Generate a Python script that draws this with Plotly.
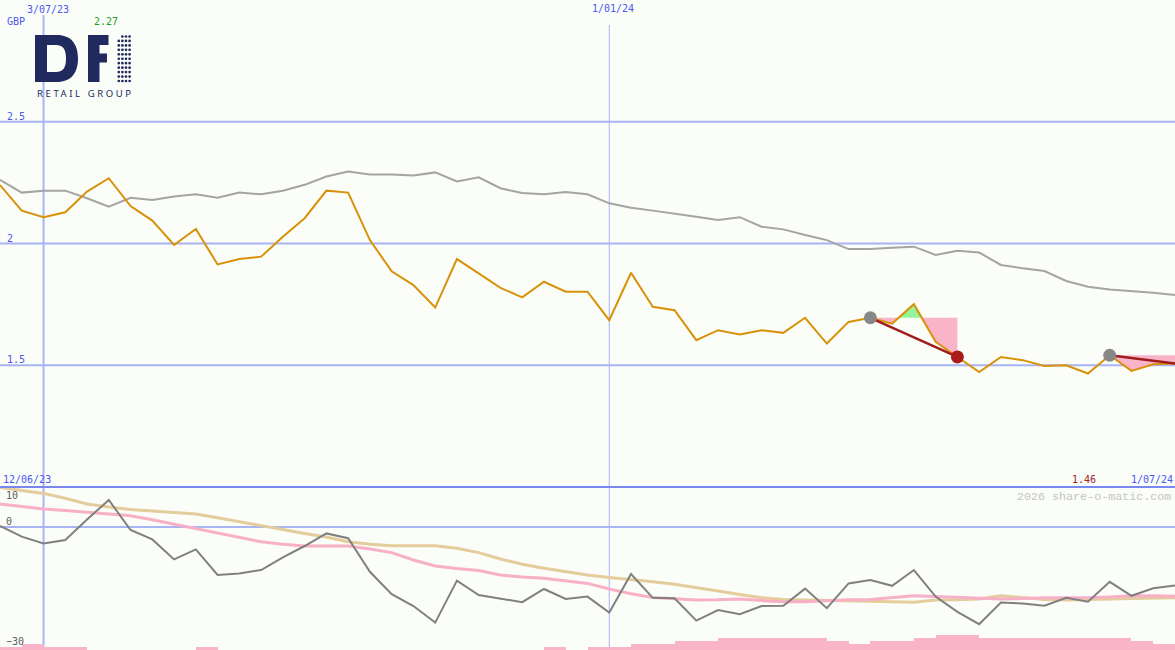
import pandas as pd
import plotly.graph_objects as go

# ---------------- data ----------------
dates = pd.date_range("2023-06-19", periods=55, freq="7D")

price = [2.240, 2.135, 2.108, 2.128, 2.213, 2.268, 2.154, 2.094, 1.994, 2.060,
         1.914, 1.936, 1.946, 2.028, 2.104, 2.217, 2.209, 2.014, 1.886, 1.829,
         1.737, 1.936, 1.877, 1.818, 1.779, 1.843, 1.802, 1.802, 1.685, 1.880,
         1.740, 1.726, 1.603, 1.644, 1.626, 1.644, 1.633, 1.695, 1.589, 1.678,
         1.695, 1.671, 1.751, 1.596, 1.534, 1.472, 1.534, 1.521, 1.497, 1.500,
         1.466, 1.541, 1.477, 1.504, 1.507]

index_line = [2.261, 2.209, 2.217, 2.217, 2.186, 2.151, 2.188, 2.179, 2.193, 2.202,
              2.188, 2.209, 2.202, 2.217, 2.241, 2.275, 2.296, 2.283, 2.283, 2.279,
              2.292, 2.255, 2.272, 2.227, 2.207, 2.202, 2.211, 2.202, 2.165, 2.147,
              2.135, 2.124, 2.110, 2.097, 2.108, 2.069, 2.058, 2.035, 2.014, 1.977,
              1.977, 1.983, 1.987, 1.953, 1.970, 1.963, 1.912, 1.898, 1.887, 1.846,
              1.822, 1.811, 1.805, 1.798, 1.788]

osc = [0.25, -2.4, -4.1, -3.25, 1.9, 6.75, -0.75, -3.1, -8.1, -5.6,
       -12.0, -11.6, -10.75, -7.6, -4.75, -1.6, -2.8, -11.2, -16.8, -19.75,
       -23.9, -13.4, -17.0, -17.9, -18.8, -15.5, -18.0, -17.4, -21.4, -11.75,
       -17.7, -17.8, -23.4, -20.75, -21.8, -19.75, -19.7, -15.4, -20.3, -14.1,
       -13.25, -14.7, -10.75, -17.4, -21.2, -24.3, -18.9, -19.1, -19.7, -17.7,
       -18.7, -13.7, -17.2, -15.3, -14.6]

osc_slow = [9.9, 9.1, 8.4, 7.2, 5.75, 5.0, 4.4, 4.0, 3.7, 3.25,
            2.3, 1.3, 0.3, -0.6, -1.6, -2.5, -3.7, -4.3, -4.7, -4.7,
            -4.7, -5.3, -6.4, -8.0, -9.3, -10.3, -11.2, -12.0, -12.6, -13.1,
            -13.7, -14.3, -15.1, -16.0, -16.9, -17.7, -18.1, -18.25, -18.4, -18.5,
            -18.6, -18.7, -18.8, -18.25, -18.2, -18.0, -17.2, -17.6, -18.1, -18.25,
            -18.2, -18.0, -17.9, -17.8, -17.7]

osc_signal = [5.75, 5.1, 4.5, 4.1, 3.7, 3.3, 2.8, 1.8, 0.7, -0.3,
              -1.4, -2.6, -3.7, -4.3, -4.75, -4.75, -4.75, -5.5, -6.4, -8.25,
              -9.75, -10.4, -10.9, -12.0, -12.5, -12.8, -13.4, -14.1, -15.5, -16.7,
              -17.6, -18.0, -18.25, -18.2, -18.0, -18.4, -18.7, -18.7, -18.4, -18.2,
              -18.1, -17.7, -17.2, -17.4, -17.6, -17.8, -18.0, -17.9, -17.7, -17.7,
              -17.7, -17.5, -17.2, -17.2, -17.3]

volume_bars = [0.75, 1.5, 0.75, 0.75, 0, 0, 0, 0, 0, 0.75,
               0, 0, 0, 0, 0, 0, 0, 0, 0, 0,
               0, 0, 0, 0, 0, 0.75, 0, 0.75, 0.75, 1.5,
               1.5, 2.25, 2.25, 3.1, 3.1, 3.1, 3.1, 3.1, 2.25, 1.5,
               2.25, 2.25, 3.1, 3.75, 3.75, 3.1, 3.1, 3.1, 3.1, 3.1,
               3.1, 3.1, 2.25, 1.5, 1.5]

trade_entries = ["2024-03-25", "2024-06-10"]
trade_exits = ["2024-04-22", "2024-07-01"]
trade_closed = [True, False]

x_range = ["2023-06-19", "2024-07-01"]
upper_range = [1.0, 3.0]
lower_range = [-30.75, 10.0]
price_ticks = [2.5, 2.0, 1.5]
price_tick_labels = ["2.5", "2", "1.5"]
osc_ticks = [10, 0, -30]
date_marks = ["2023-07-03", "2024-01-01"]
date_mark_labels = ["3/07/23", "1/01/24"]
start_label, end_label = "12/06/23", "1/07/24"
high_label, low_label = "2.27", "1.46"
currency = "GBP"

# ---------------- layout helpers ----------------
W, H = 1175, 650
SPLIT = 487  # pixel row where lower panel starts


def PX(x):
    return x / W


def PY(y):
    return 1 - y / H


BLUE_TXT = "#4a58f0"
GRID = "#a8b4f4"
DIVIDER = "#7888ee"
BG = "#fbfdf8"
NAVY = "#212a5e"

fig = go.Figure()

# upper panel: comparison line
fig.add_trace(go.Scatter(x=dates, y=index_line, mode="lines",
                         line=dict(color="#a4a4a4", width=2), yaxis="y", hoverinfo="skip"))

# trade shading
for ent, ex in zip(trade_entries, trade_exits):
    i0 = list(dates).index(pd.Timestamp(ent))
    i1 = list(dates).index(pd.Timestamp(ex))
    level = price[i0]
    pts = []
    for k in range(i0, i1 + 1):
        pts.append((dates[k], price[k]))
        if k < i1:
            a, b = price[k] - level, price[k + 1] - level
            if a * b < 0:
                t = (level - price[k]) / (price[k + 1] - price[k])
                pts.append((dates[k] + (dates[k + 1] - dates[k]) * t, level))
    px_ = [p[0] for p in pts]
    for func, col in ((min, "#f9b4c9"), (max, "#98f498")):
        ys = [func(p[1], level) for p in pts]
        fig.add_trace(go.Scatter(x=px_ + [px_[-1], px_[0]], y=ys + [level, level],
                                 mode="lines", fill="toself", fillcolor=col,
                                 line=dict(width=0, color=col), yaxis="y", hoverinfo="skip"))

# price line
fig.add_trace(go.Scatter(x=dates, y=price, mode="lines",
                         line=dict(color="#d8920a", width=2), yaxis="y", hoverinfo="skip"))

# trade lines and markers
for ent, ex, closed in zip(trade_entries, trade_exits, trade_closed):
    i0 = list(dates).index(pd.Timestamp(ent))
    i1 = list(dates).index(pd.Timestamp(ex))
    fig.add_trace(go.Scatter(x=[dates[i0], dates[i1]], y=[price[i0], price[i1]], mode="lines",
                             line=dict(color="#a01c1c", width=2.5), yaxis="y", hoverinfo="skip"))
    fig.add_trace(go.Scatter(x=[dates[i0]], y=[price[i0]], mode="markers",
                             marker=dict(color="#888888", size=13), yaxis="y", hoverinfo="skip"))
    if closed:
        fig.add_trace(go.Scatter(x=[dates[i1]], y=[price[i1]], mode="markers",
                                 marker=dict(color="#a81c1c", size=13), yaxis="y", hoverinfo="skip"))

# lower panel
fig.add_trace(go.Bar(x=dates, y=volume_bars, base=lower_range[0], offset=0,
                     width=[7 * 86400000] * len(dates), marker=dict(color="#f9b4c9", line=dict(width=0)),
                     yaxis="y2", hoverinfo="skip"))
fig.add_trace(go.Scatter(x=dates, y=osc_slow, mode="lines",
                         line=dict(color="#e4cc9c", width=3), yaxis="y2", hoverinfo="skip"))
fig.add_trace(go.Scatter(x=dates, y=osc_signal, mode="lines",
                         line=dict(color="#f8b0c8", width=3), yaxis="y2", hoverinfo="skip"))
fig.add_trace(go.Scatter(x=dates, y=osc, mode="lines",
                         line=dict(color="#808080", width=2), yaxis="y2", hoverinfo="skip"))

dom_split = (H - SPLIT) / H
shapes = []
for v in price_ticks:
    shapes.append(dict(type="line", xref="paper", yref="y", x0=0, x1=1, y0=v, y1=v,
                       line=dict(color=GRID, width=2), layer="below"))
shapes.append(dict(type="line", xref="paper", yref="y2", x0=0, x1=1, y0=0, y1=0,
                   line=dict(color=GRID, width=2), layer="below"))
shapes.append(dict(type="line", xref="paper", yref="paper", x0=0, x1=1,
                   y0=PY(SPLIT), y1=PY(SPLIT), line=dict(color=DIVIDER, width=2), layer="above"))
shapes.append(dict(type="line", xref="x", yref="paper", x0=date_marks[0], x1=date_marks[0],
                   y0=0, y1=PY(15), line=dict(color=GRID, width=2), layer="below"))
shapes.append(dict(type="line", xref="x", yref="paper", x0=date_marks[1], x1=date_marks[1],
                   y0=0, y1=PY(25), line=dict(color=GRID, width=1), layer="below"))

# logo: D
d_path = ("M {a},{b} L {c},{b} C {d},{b} {e},{f} {e},{g} C {e},{h} {d},{i} {c},{i} L {a},{i} Z "
          "M {j},{k} L {l},{k} C {m},{k} {n},{o} {n},{g} C {n},{p} {m},{q} {l},{q} L {j},{q} Z").format(
    a=PX(35), b=PY(35), c=PX(57), d=PX(71), e=PX(78), f=PY(44), g=PY(58.5), h=PY(73), i=PY(82),
    j=PX(47), k=PY(45), l=PX(56), m=PX(63.5), n=PX(66), o=PY(50), p=PY(67), q=PY(72))
shapes.append(dict(type="path", xref="paper", yref="paper", path=d_path, fillcolor=NAVY,
                   fillrule="evenodd", line=dict(width=0)))
# logo: F
for (x0, y0, x1, y1) in [(88, 35, 99.5, 82), (88, 35, 108.5, 45), (88, 53.5, 107, 62.5)]:
    shapes.append(dict(type="rect", xref="paper", yref="paper", x0=PX(x0), x1=PX(x1),
                       y0=PY(y0), y1=PY(y1), fillcolor=NAVY, line=dict(width=0)))
# logo: dotted I
r = 1.35
for ci, cx in enumerate([118.8, 122.4, 126.0, 129.6]):
    for ri in range(11):
        if ci == 0 and ri == 0:
            continue
        cy = 36.5 + ri * 4.45
        shapes.append(dict(type="circle", xref="paper", yref="paper",
                           x0=PX(cx - r), x1=PX(cx + r), y0=PY(cy - r), y1=PY(cy + r),
                           fillcolor=NAVY, line=dict(width=0)))

MONO = "DejaVu Sans Mono"
ann = []


def label(text, x, y, color, xanchor="left", size=10, family=MONO):
    ann.append(dict(text=text, x=PX(x), y=PY(y), xref="paper", yref="paper",
                    xanchor=xanchor, yanchor="middle", showarrow=False,
                    font=dict(family=family, size=size, color=color)))


label(date_mark_labels[0], 47.5, 9.5, BLUE_TXT, "center")
label(date_mark_labels[1], 613, 9, BLUE_TXT, "center")
label(currency, 5, 21.5, BLUE_TXT)
label(high_label, 92, 21.5, "#1e9a1e")
for v, t in zip(price_ticks, price_tick_labels):
    yy = (upper_range[1] - v) / (upper_range[1] - upper_range[0]) * SPLIT
    label(t, 5, yy - 5.5, BLUE_TXT)
label(start_label, 1, 479, BLUE_TXT)
label(low_label, 1070, 479.5, "#a01c1c")
label(end_label, 1129, 479.5, BLUE_TXT)
label("2026 share-o-matic.com", 1173, 496.5, "#c4c4c4", "right", 11.7, "Liberation Mono")
for v in osc_ticks:
    yy = SPLIT + (lower_range[1] - v) / (lower_range[1] - lower_range[0]) * (H - SPLIT)
    label(str(v) if v >= 0 else "\u221230", 4, min(yy + 8.5, 642) if v == 10 else yy - 5.5,
          "#606060")
ann.append(dict(text='<span style="letter-spacing:2.6px">RETAIL GROUP</span>', x=PX(34.5), y=PY(93.5),
                xref="paper", yref="paper", xanchor="left", yanchor="middle", showarrow=False,
                font=dict(family="Noto Sans", size=9.5, color=NAVY)))

fig.update_layout(
    width=W, height=H, margin=dict(l=0, r=0, t=0, b=0),
    paper_bgcolor=BG, plot_bgcolor=BG, showlegend=False, bargap=0,
    xaxis=dict(range=x_range, visible=False, showgrid=False, zeroline=False, fixedrange=True),
    yaxis=dict(domain=[dom_split, 1], range=upper_range, visible=False, showgrid=False,
               zeroline=False),
    yaxis2=dict(domain=[0, dom_split], range=lower_range, visible=False, showgrid=False,
                zeroline=False),
    shapes=shapes, annotations=ann,
)

fig.write_html("out.html", config=dict(displayModeBar=False),
               post_script="document.body.style.margin='0';document.body.style.overflow='hidden';"
                           "document.body.style.background='" + BG + "';")
